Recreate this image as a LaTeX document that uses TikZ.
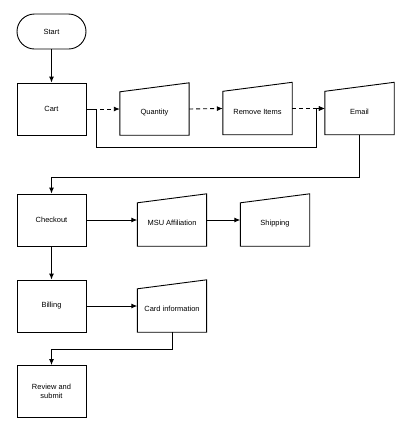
\documentclass[tikz,border=0pt]{standalone}
\usepackage{fontspec}
\setmainfont{Liberation Sans}
\usetikzlibrary{arrows.meta}
\begin{document}
\begin{tikzpicture}[x=1bp,y=-1bp,
  every node/.style={font=\fontsize{7.5}{9}\selectfont, align=center, inner sep=0pt},
  procbox/.style={draw, line width=0.9bp, minimum width=69bp, minimum height=52bp},
  termbox/.style={draw, line width=0.9bp, minimum width=69bp, minimum height=35bp, rounded corners=17.5bp},
  manualbox/.style={minimum width=69bp, minimum height=52bp, text height=11.4bp, text depth=0bp},
  conn/.style={line width=0.9bp, -{Latex[length=6bp,width=5bp]}},
  dconn/.style={conn, dash pattern=on 4bp off 3bp},
  plainline/.style={line width=0.9bp}]
\useasboundingbox (0,0) rectangle (411,432);
\node[termbox] (start) at (51.5,31.5) {Start};
\node[procbox] (cart) at (51.5,109) {Cart};
\node[manualbox] (qty) at (154.5,109) {Quantity};
\node[manualbox] (rem) at (257.5,108.5) {Remove Items};
\node[manualbox] (email) at (359.5,108.5) {Email};
\node[procbox] (checkout) at (51.5,220) {Checkout};
\node[manualbox] (msu) at (172,220) {MSU Affiliation};
\node[manualbox] (ship) at (275,220) {Shipping};
\node[procbox] (billing) at (51.5,306) {Billing};
\node[manualbox] (card) at (172,306) {Card information};
\node[procbox] (review) at (51.5,391.5) {Review and\\submit};
\foreach \n in {qty,rem,email,msu,ship,card}{
  \draw[plainline] ([yshift=-9bp]\n.north west) -- (\n.north east) -- (\n.south east) -- (\n.south west) -- cycle;
}
\coordinate (b1) at (96,147);
\coordinate (b2) at (316,147);
\coordinate (c1) at (359.5,177);
\coordinate (d1) at (172,349);
\draw[conn] (start) -- (cart);
\draw[dconn] (cart.east) -- (qty.west);
\draw[dconn] (qty.east) -- (rem.west);
\draw[dconn] (rem.east) -- (email.west);
\draw[conn] (cart.east) -| (b1) -- (b2) |- (email.west);
\draw[conn] (email.south) -- (c1) -| (checkout.north);
\draw[conn] (checkout.east) -- (msu.west);
\draw[conn] (msu.east) -- (ship.west);
\draw[conn] (checkout.south) -- (billing.north);
\draw[conn] (billing.east) -- (card.west);
\draw[conn] (card.south) -- (d1) -| (review.north);
\end{tikzpicture}
\end{document}
